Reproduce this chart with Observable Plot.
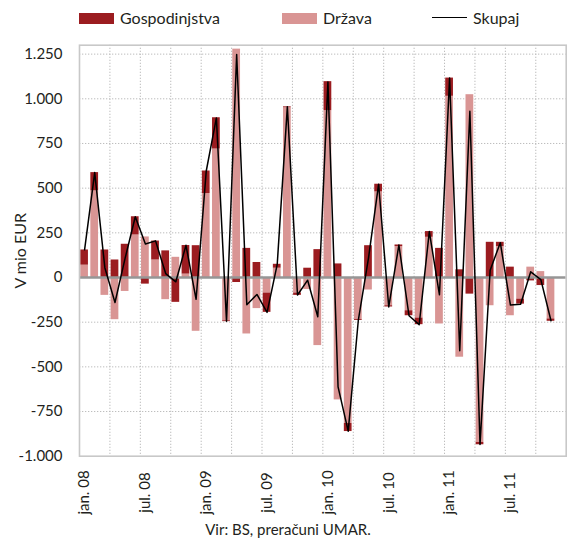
<!DOCTYPE html>
<html>
<head>
<meta charset="utf-8">
<script src="https://cdn.jsdelivr.net/npm/d3@7"></script>
<script src="https://cdn.jsdelivr.net/npm/@observablehq/plot@0.6"></script>
<style>
  html, body { margin: 0; padding: 0; background: #fff; }
  #wrap { position: relative; width: 567px; height: 540px; font-family: Lato, "Open Sans", sans-serif; color: #231f20; }
  .sw { position: absolute; top: 13px; height: 11px; width: 35px; }
  .lg { position: absolute; top: 8px; font-size: 16px; line-height: 20px; }
  #chart { position: absolute; left: 0; top: 34px; }
  #cap { position: absolute; left: 0; top: 519px; width: 576px; text-align: center; font-size: 15px; line-height: 20px; }
</style>
</head>
<body>
<div id="wrap">
  <div class="sw" style="left:79px;background:#9b1c20"></div>
  <div class="lg" style="left:120px">Gospodinjstva</div>
  <div class="sw" style="left:282px;background:#d99594"></div>
  <div class="lg" style="left:323px">Država</div>
  <div class="sw" style="left:432px;top:17px;height:1.4px;background:#000"></div>
  <div class="lg" style="left:473px">Skupaj</div>
  <div id="chart"></div>
  <div id="cap">Vir: BS, preračuni UMAR.</div>
</div>
<script>
// Months (Jan 2008 – Nov 2011)
const months = [
  "jan. 08","feb. 08","mar. 08","apr. 08","maj. 08","jun. 08","jul. 08","avg. 08","sep. 08","okt. 08","nov. 08","dec. 08",
  "jan. 09","feb. 09","mar. 09","apr. 09","maj. 09","jun. 09","jul. 09","avg. 09","sep. 09","okt. 09","nov. 09","dec. 09",
  "jan. 10","feb. 10","mar. 10","apr. 10","maj. 10","jun. 10","jul. 10","avg. 10","sep. 10","okt. 10","nov. 10","dec. 10",
  "jan. 11","feb. 11","mar. 11","apr. 11","maj. 11","jun. 11","jul. 11","avg. 11","sep. 11","okt. 11","nov. 11"
];
const slotCount = 48; // axis runs through dec. 11
const gospodinjstva = [
  85,102,154,98,186,102,-37,106,149,-139,160,178,
  126,175,-5,-28,163,84,-108,22,5,-13,52,156,
  162,76,-45,-5,178,43,-7,9,-28,-37,32,163,
  102,43,-93,-13,197,24,58,-28,-19,-45,-13
];
const drzava = [
  69,485,-100,-236,-78,238,227,98,-124,113,19,-301,
  470,719,-242,1278,-316,-174,-87,52,950,-87,-67,-381,
  934,-685,-817,-235,-70,479,-158,173,-186,-227,225,-260,
  1014,-446,1023,-923,-158,173,-214,-121,58,33,-232
];
const skupaj = [
  155,587,55,-140,108,340,188,205,22,-24,180,-122,
  596,893,-245,1248,-152,-95,-195,73,956,-98,-15,-220,
  1094,-612,-860,-238,108,522,-165,182,-214,-264,257,-97,
  1116,-410,930,-934,41,195,-154,-150,32,-12,-242
];
const yTicks = [-1000,-750,-500,-250,0,250,500,750,1000,1250];
const yLabel = "V mio EUR";
const seriesNames = ["Država", "Gospodinjstva"];
const colors = ["#d99594", "#9b1c20"];

// Build tables (Država first so it sits next to zero)
const bars = [];
months.forEach((m, i) => {
  bars.push({i, month: m, series: "Država", value: drzava[i]});
  bars.push({i, month: m, series: "Gospodinjstva", value: gospodinjstva[i]});
});
const totals = months.map((m, i) => ({i, month: m, value: skupaj[i]}));
const labelRows = months.map((m, i) => ({i, month: m})).filter(d => d.month.startsWith("jan") || d.month.startsWith("jul"));

const loc = d3.formatLocale({decimal: ",", thousands: ".", grouping: [3], currency: ["", ""], minus: "-"});
const fmt = loc.format(",");

const dotted = {stroke: "#bdbdbd", strokeOpacity: 1, strokeWidth: 1, strokeDasharray: "1.3,1.7"};

const chart = Plot.plot({
  width: 567,
  height: 484,
  marginLeft: 79,
  marginRight: 1.3,
  marginTop: 10.7,
  marginBottom: 62.3,
  style: {fontFamily: "Lato, 'Open Sans', sans-serif", fontSize: "15px", color: "#231f20", background: "#fff"},
  x: {type: "linear", domain: [0, slotCount], axis: null},
  y: {domain: [-1000, 1300], ticks: yTicks, tickFormat: fmt, label: null},
  color: {domain: seriesNames, range: colors},
  marks: [
    Plot.gridY(yTicks.filter(t => t !== 0 && t !== -1000), dotted),
    Plot.gridX(d3.range(3, slotCount, 3), dotted),
    Plot.rectY(bars, {
      x1: "i",
      x2: d => d.i + 1,
      y: "value",
      fill: "series",
      insetLeft: 1.2,
      insetRight: 1.2
    }),
    Plot.ruleY([0], {stroke: "#969696", strokeWidth: 2.6}),
    Plot.frame({stroke: "#c8c8c8", strokeWidth: 1.6}),
    Plot.lineY(totals, {x: d => d.i + 0.5, y: "value", stroke: "#000", strokeWidth: 1.5}),
    Plot.axisY(yTicks, {tickSize: 0, tickPadding: 17, tickFormat: fmt, label: null, fill: "#231f20"}),
    Plot.text(labelRows, {
      x: d => d.i + 0.5,
      text: "month",
      frameAnchor: "bottom",
      dy: 36.3,
      rotate: -90,
      textAnchor: "middle",
      lineAnchor: "middle",
      fill: "#231f20"
    }),
    Plot.text([yLabel], {
      text: d => d,
      frameAnchor: "left",
      dx: -59,
      rotate: -90,
      textAnchor: "middle",
      lineAnchor: "middle",
      fontSize: 16,
      fill: "#231f20"
    })
  ]
});
document.getElementById("chart").appendChild(chart);
</script>
</body>
</html>
